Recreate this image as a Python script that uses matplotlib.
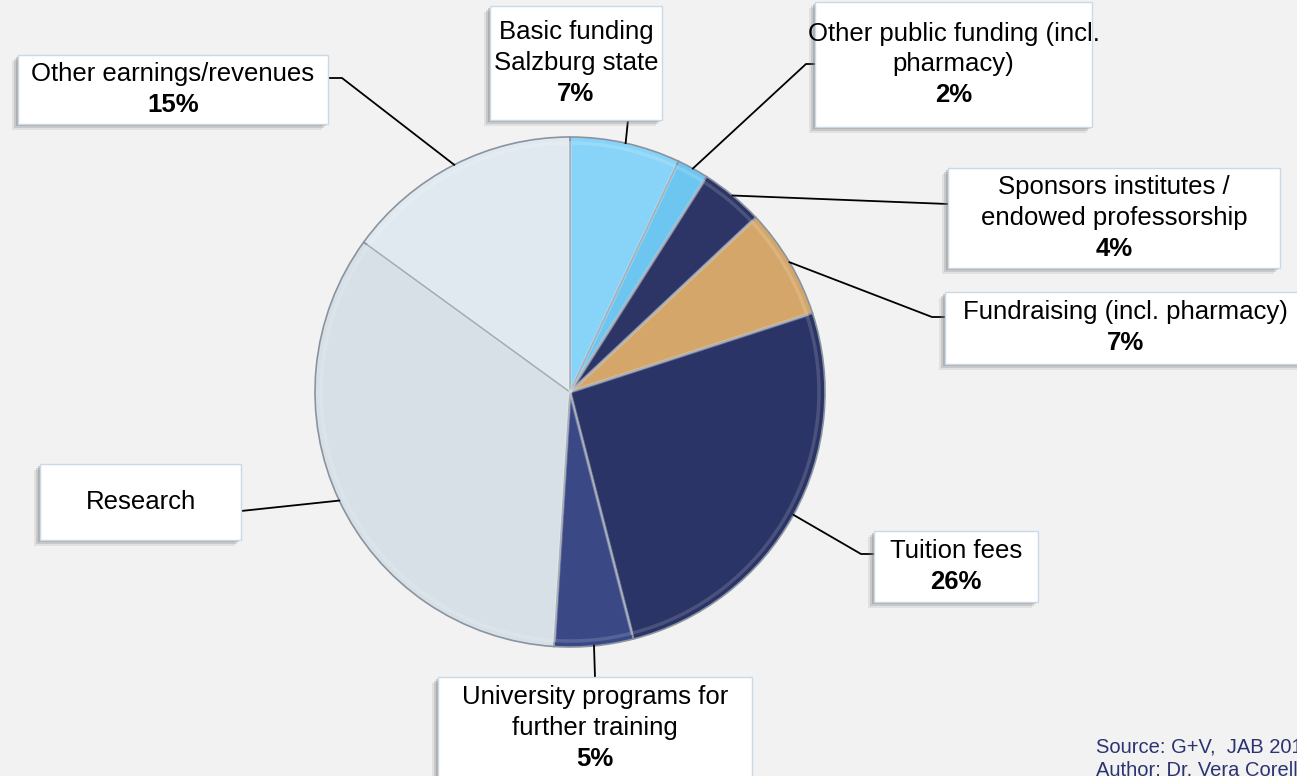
import numpy as np
import matplotlib.pyplot as plt
from matplotlib.patches import Rectangle

plt.rcParams["font.family"] = ["Liberation Sans", "DejaVu Sans"]

# data, clockwise from 12 o'clock
labels = [
    "Basic funding\nSalzburg state",
    "Other public funding (incl.\npharmacy)",
    "Sponsors institutes /\nendowed professorship",
    "Fundraising (incl. pharmacy)",
    "Tuition fees",
    "University programs for\nfurther training",
    "Research",
    "Other earnings/revenues",
]
shares = [7, 2, 4, 7, 26, 5, 34, 15]
show_pct = [True, True, True, True, True, True, False, True]
colors = ["#88d4f9", "#6cc6ef", "#2c3566", "#d5a669",
          "#2b3466", "#3a4886", "#d6e0e6", "#e0e9ef"]
source_lines = ["Source: G+V,  JAB 2016", "Author: Dr. Vera Corell"]

# layout in pixel coords (y down): box (x0, y0, x1, y1), attach point, elbow point
boxes = [
    ((490, 6, 662, 120), (628, 120), None),
    ((815, 2, 1092, 127), (815, 64), (806, 64)),
    ((948, 168, 1280, 268), (948, 204), None),
    ((945, 292, 1305, 364), (945, 317), (932, 317)),
    ((874, 531, 1038, 602), (874, 554), (861, 554)),
    ((438, 677, 752, 779), (595, 677), None),
    ((40, 464, 241, 540), (241, 511), None),
    ((18, 55, 328, 124), (328, 78), (342, 78)),
]

W, H = 1297, 776
cx, cy, R = 570, 392, 255

fig = plt.figure(figsize=(W / 100, H / 100), dpi=100, facecolor="#f2f2f2")
ax = fig.add_axes([0, 0, 1, 1])
ax.set_facecolor("#f2f2f2")

# y axis runs downward, so counterclockwise in data = clockwise on screen
wedges, _ = ax.pie(shares, colors=colors, startangle=-90, counterclock=True,
                   center=(cx, cy), radius=R,
                   wedgeprops=dict(edgecolor="#8a94a0", linewidth=1.2))
# soft bevel highlight
ax.pie(shares, colors=["none"] * len(shares), startangle=-90, counterclock=True,
       center=(cx, cy), radius=R - 6,
       wedgeprops=dict(edgecolor="white", linewidth=2.5, alpha=0.15))

ax.set_xlim(0, W)
ax.set_ylim(H, 0)
ax.set_aspect("equal")
ax.axis("off")

fs = 18.5
for w, lab, val, show, (rect, attach, elbow) in zip(wedges, labels, shares, show_pct, boxes):
    mid = np.deg2rad((w.theta1 + w.theta2) / 2)
    ax_pt = (cx + R * np.cos(mid), cy + R * np.sin(mid))
    xs = [ax_pt[0]] + ([elbow[0]] if elbow else []) + [attach[0]]
    ys = [ax_pt[1]] + ([elbow[1]] if elbow else []) + [attach[1]]
    ax.plot(xs, ys, color="black", lw=1.3, zorder=3)

    x0, y0, x1, y1 = rect
    # blurred drop shadow, down-left
    for k, a in zip([6, 4, 2], [0.15, 0.25, 0.35]):
        ax.add_patch(Rectangle((x0 - k, y0 + k), x1 - x0, y1 - y0,
                               facecolor="#808080", alpha=a, edgecolor="none", zorder=4))
    ax.add_patch(Rectangle((x0, y0), x1 - x0, y1 - y0, facecolor="white",
                           edgecolor="#c9d9ea", lw=1.0, zorder=5))

    lines = lab.split("\n") + ([f"{val}%"] if show else [])
    n = len(lines)
    xc = (x0 + x1) / 2
    yc = (y0 + y1) / 2
    step = 31
    for i, t in enumerate(lines):
        yy = yc + (i - (n - 1) / 2) * step
        bold = show and i == n - 1
        ax.text(xc, yy, t, ha="center", va="center", fontsize=fs,
                fontweight="bold" if bold else "normal", color="black", zorder=6)

for i, t in enumerate(source_lines):
    ax.text(1096, 747 + i * 24, t, ha="left", va="center", fontsize=14.5,
            color="#2b3470", zorder=6)

fig.savefig("out.png", dpi=100, facecolor=fig.get_facecolor())
